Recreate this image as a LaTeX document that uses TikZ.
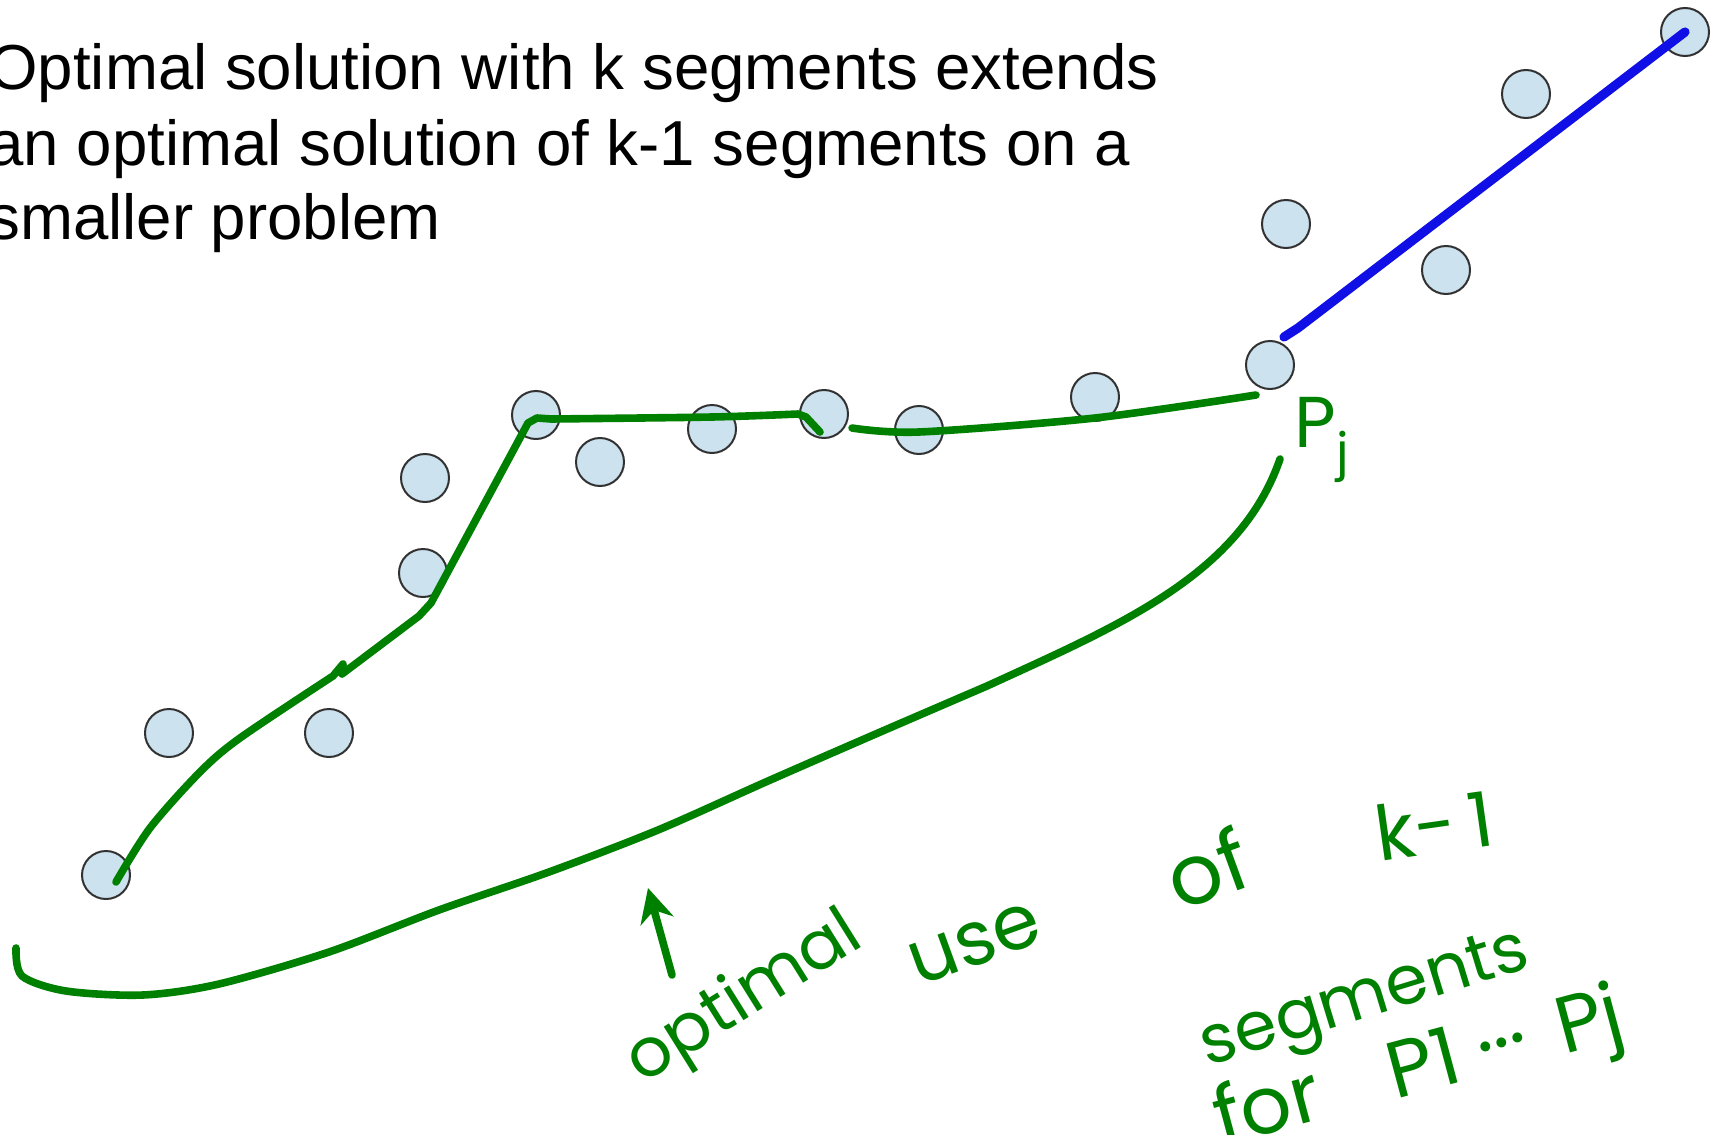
\documentclass[tikz,border=0pt]{standalone}
\usepackage{fontspec}
\setmainfont{Liberation Sans}
\newfontfamily\handfont{Poppins}
\usetikzlibrary{arrows.meta}
\definecolor{ink}{RGB}{0,128,0}
\definecolor{blueink}{RGB}{16,16,230}
\definecolor{dotfill}{RGB}{204,226,238}
\definecolor{dotline}{RGB}{50,50,50}
\begin{document}
\begin{tikzpicture}[x=0.5pt,y=-0.5pt,
  pt/.style={circle, draw=dotline, line width=1pt, fill=dotfill, minimum size=24pt, inner sep=0pt},
  titletext/.style={anchor=base west, inner sep=0pt, font=\fontsize{31.8}{37}\selectfont},
  hand/.style={text=ink, inner sep=0pt, font=\handfont\fontsize{34}{40}\selectfont},
  greenpen/.style={draw=ink, line width=3.8pt, line cap=round, line join=round},
  bluepen/.style={draw=blueink, line width=4.6pt, line cap=round, line join=round}]
\useasboundingbox[fill=white] (0,0) rectangle (1720,1135);

% title
\node[titletext] (t1) at (-12,90)  {Optimal solution with k segments extends};
\node[titletext] (t2) at (-12,165) {an optimal solution of k-1 segments on a};
\node[titletext] (t3) at (-12,239) {smaller problem};

% points
\node[pt] (A) at (106,875) {};
\node[pt] (B) at (169,733) {};
\node[pt] (C) at (329,733) {};
\node[pt] (D) at (423,573) {};
\node[pt] (E) at (425,478) {};
\node[pt] (F) at (536,415) {};
\node[pt] (G) at (600,462) {};
\node[pt] (H) at (712,429) {};
\node[pt] (I) at (824,414) {};
\node[pt] (J) at (919,430) {};
\node[pt] (K) at (1095,397) {};
\node[pt] (L) at (1270,365) {};
\node[pt] (M) at (1286,224) {};
\node[pt] (N) at (1446,270) {};
\node[pt] (O) at (1526,94) {};
\node[pt] (P) at (1685,32) {};

% green fit, first part
\coordinate (g0) at (116,882);
\coordinate (g1) at (333,676);
\coordinate (g2) at (820,432);
\draw[greenpen] plot[smooth, tension=0.5] coordinates {(g0) (150,828) (200,772) (240,738) (g1)}
  -- (343,664) -- (342,674) -- (419,616) -- (431,603) -- (528,423) -- (537,418)
  -- (551,419) plot[smooth, tension=0.5] coordinates {(551,419) (712,417) (798,414)} -- (806,417) -- (g2);
% green fit, second part
\coordinate (h0) at (852,428);
\coordinate (h1) at (1256,395);
\draw[greenpen] plot[smooth, tension=0.5] coordinates {(h0) (919,432) (1095,418) (h1)};

% blue segment
\coordinate (b0) at (1284,337);
\draw[bluepen] (b0) -- (1298,328) -- (P.center);

% brace-like curve under the points
\coordinate (c0) at (16,948);
\coordinate (c1) at (1280,459);
\draw[greenpen] plot[smooth, tension=0.5] coordinates {(c0) (22,976) (66,991) (143,995) (219,984) (329,952) (439,910) (549,872) (658,830) (768,781) (878,733) (987,686)}
  .. controls (1120,625) and (1240,575) .. (c1);

% arrow mark
\coordinate (arrTail) at (672,975);
\coordinate (arrTip) at (648,888);
\draw[greenpen, -{Stealth[length=17pt, width=17pt]}] (arrTail) -- (arrTip);

% handwritten labels
\node[hand, font=\handfont\fontsize{36}{40}\selectfont] (pj) at (1322,440) {P\textsubscript{j}};
\node[hand, rotate=32] (w1) at (745,1000) {optimal};
\node[hand, rotate=20, font=\handfont\fontsize{38}{40}\selectfont] (w2) at (975,944) {use};
\node[hand, rotate=20, font=\handfont\fontsize{42}{40}\selectfont] (w3) at (1207,868) {of};
\node[hand, rotate=8, font=\handfont\fontsize{38}{40}\selectfont] (w4) at (1434,825) {k-\,1};
\node[hand, rotate=17] (w5) at (1366,1003) {segments};
\node[hand, rotate=15, font=\handfont\fontsize{40}{40}\selectfont] (w6) at (1420,1072) {for\hspace{0.9em}P1\hspace{0.25em}···\hspace{0.4em}Pj};
\end{tikzpicture}
\end{document}
